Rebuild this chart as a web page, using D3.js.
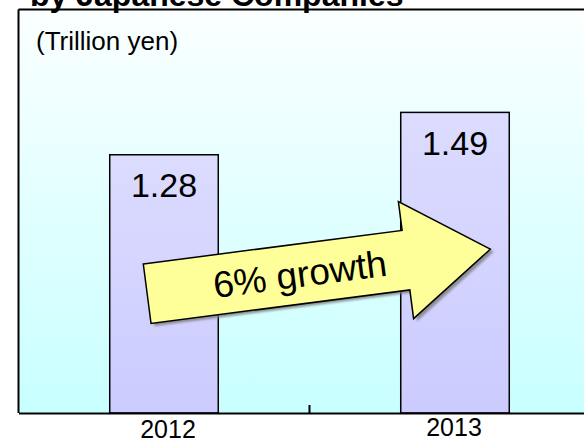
<!DOCTYPE html>
<html>
<head>
<meta charset="utf-8">
<script src="https://cdn.jsdelivr.net/npm/d3@7"></script>
<style>
  html, body { margin: 0; padding: 0; background: #fff; }
  svg { display: block; font-family: Arial, "Liberation Sans", sans-serif; }
</style>
</head>
<body>
<svg id="chart" width="584" height="441"></svg>
<script>
const categories = ["2012", "2013"];
const values = [1.28, 1.49];
const valueLabels = ["1.28", "1.49"];
const yDomain = [0, 2];
const unitLabel = "(Trillion yen)";
const titleText = "by Japanese Companies";
const annotationText = "6% growth";

const W = 584, H = 441;
const svg = d3.select("#chart");
const defs = svg.append("defs");

const bg = defs.append("linearGradient").attr("id", "bgGrad").attr("x1", 0).attr("y1", 0).attr("x2", 0).attr("y2", 1);
bg.append("stop").attr("offset", "0%").attr("stop-color", "#fbffff");
bg.append("stop").attr("offset", "100%").attr("stop-color", "#c8ffff");

const barG = defs.append("linearGradient").attr("id", "barGrad").attr("x1", 0).attr("y1", 0).attr("x2", 0).attr("y2", 1);
barG.append("stop").attr("offset", "0%").attr("stop-color", "#dcdcff");
barG.append("stop").attr("offset", "100%").attr("stop-color", "#cbcbff");

const sh = defs.append("filter").attr("id", "shadow").attr("x", "-10%").attr("y", "-10%").attr("width", "130%").attr("height", "140%");
sh.append("feGaussianBlur").attr("stdDeviation", 1.2);

const plot = { left: 18.5, top: 9.5, right: 600.5, bottom: 413 };

const x = d3.scaleBand().domain(categories).range([plot.left, plot.right]).padding(0);
const y = d3.scaleLinear().domain(yDomain).range([plot.bottom, plot.top]);
const barW = x.bandwidth() * 0.373;

// Plot background
svg.append("rect")
  .attr("x", plot.left).attr("y", plot.top)
  .attr("width", plot.right - plot.left).attr("height", plot.bottom - plot.top)
  .attr("fill", "url(#bgGrad)");

// Title (cut off at top, as in the original)
svg.append("text")
  .attr("x", 30).attr("y", 6)
  .attr("font-size", 32).attr("font-weight", "bold")
  .attr("fill", "#000")
  .text(titleText);

// Bars
svg.selectAll("rect.bar").data(values).join("rect")
  .attr("class", "bar")
  .attr("x", (d, i) => x(categories[i]) + x.bandwidth() / 2 - barW / 2)
  .attr("y", d => y(d))
  .attr("width", barW)
  .attr("height", d => y(0) - y(d))
  .attr("fill", "url(#barGrad)")
  .attr("stroke", "#000").attr("stroke-width", 1.5);

// Value labels
svg.selectAll("text.val").data(values).join("text")
  .attr("class", "val")
  .attr("x", (d, i) => x(categories[i]) + x.bandwidth() / 2)
  .attr("y", d => y(d) + 42.5)
  .attr("text-anchor", "middle")
  .attr("font-size", 34)
  .attr("fill", "#000")
  .text((d, i) => valueLabels[i]);

// Frame: left and top borders
svg.append("line")
  .attr("x1", plot.left).attr("x2", plot.left).attr("y1", plot.top).attr("y2", plot.bottom)
  .attr("stroke", "#000").attr("stroke-width", 2);
svg.append("line")
  .attr("x1", plot.left).attr("x2", W).attr("y1", plot.top).attr("y2", plot.top)
  .attr("stroke", "#000").attr("stroke-width", 2);

// X axis
const xAxis = d3.axisBottom(x).tickSize(0).tickFormat("");
svg.append("g").attr("transform", `translate(0,${plot.bottom})`).call(xAxis)
  .call(g => g.select(".domain").attr("stroke", "#000").attr("stroke-width", 2));
svg.append("line")
  .attr("x1", x(categories[1])).attr("x2", x(categories[1]))
  .attr("y1", plot.bottom - 8).attr("y2", plot.bottom)
  .attr("stroke", "#000").attr("stroke-width", 2);

// Category labels
const labelDx = [4, -1];
const labelY = [438, 436];
svg.selectAll("text.cat").data(categories).join("text")
  .attr("class", "cat")
  .attr("x", (d, i) => x(d) + x.bandwidth() / 2 + labelDx[i])
  .attr("y", (d, i) => labelY[i])
  .attr("text-anchor", "middle")
  .attr("font-size", 25)
  .attr("fill", "#000")
  .text(d => d);

// Unit label
svg.append("text")
  .attr("x", 36).attr("y", 50)
  .attr("font-size", 26)
  .attr("fill", "#000")
  .text(unitLabel);

// Growth arrow annotation
const arrowPts = [[0, 0], [261, 0], [261, -29], [346, 30], [261, 89], [261, 60], [0, 60]];
const arrowPath = d3.line()(arrowPts) + "Z";
const ag = svg.append("g").attr("transform", "translate(143.3,264) rotate(-7.4)");
ag.append("path").attr("d", arrowPath)
  .attr("transform", "translate(3,3)")
  .attr("fill", "#7a7a7a").attr("opacity", 0.8)
  .attr("filter", "url(#shadow)");
ag.append("path").attr("d", arrowPath)
  .attr("fill", "#ffff99")
  .attr("stroke", "#000").attr("stroke-width", 1.5)
  .attr("stroke-linejoin", "miter");
ag.append("text")
  .attr("x", 154).attr("y", 43)
  .attr("text-anchor", "middle")
  .attr("font-size", 37)
  .attr("fill", "#000")
  .text(annotationText);
</script>
</body>
</html>
